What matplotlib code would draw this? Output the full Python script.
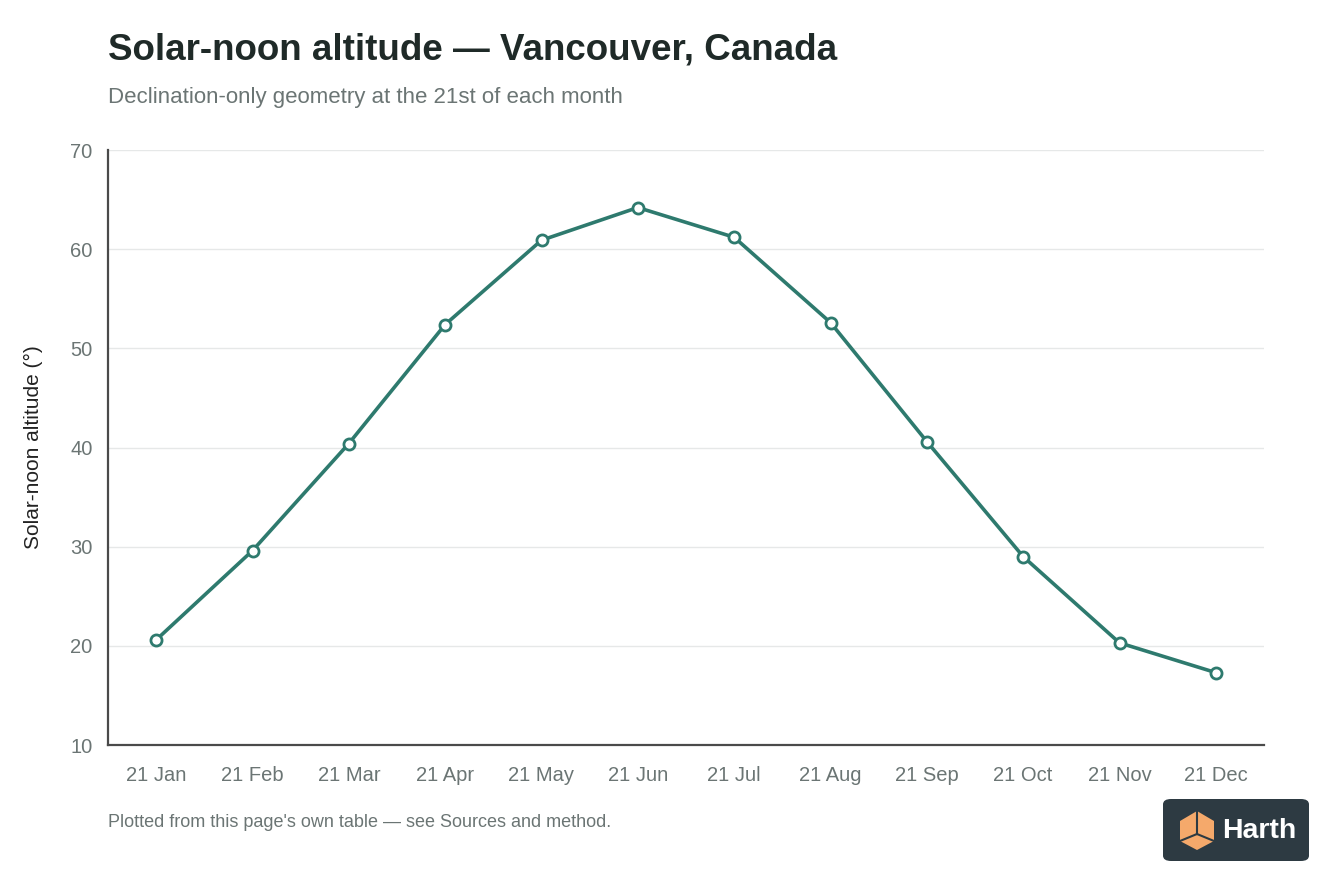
import matplotlib
matplotlib.use("Agg")
import matplotlib.pyplot as plt
from matplotlib.patches import FancyBboxPatch, Polygon

plt.rcParams['font.family'] = ['Liberation Sans', 'DejaVu Sans']

months = ['21 Jan', '21 Feb', '21 Mar', '21 Apr', '21 May', '21 Jun',
          '21 Jul', '21 Aug', '21 Sep', '21 Oct', '21 Nov', '21 Dec']
altitude = [20.6, 29.6, 40.4, 52.4, 60.9, 64.2, 61.2, 52.6, 40.6, 29.0, 20.3, 17.3]
y_ticks = [10, 20, 30, 40, 50, 60, 70]

line_color = '#2e7a6e'
text_grey = '#6b7574'

fig = plt.figure(figsize=(13.44, 8.96), dpi=100)
W, H = 1344, 896
ax = fig.add_axes([108 / W, 1 - 745 / H, (1264 - 108) / W, (745 - 150) / H])

x = list(range(len(months)))
ax.plot(x, altitude, color=line_color, lw=2.6, marker='o', ms=8,
        mfc='white', mec=line_color, mew=2, zorder=3, clip_on=False)

ax.set_xlim(-0.5, len(months) - 0.5)
ax.set_ylim(10, 70)
ax.set_yticks(y_ticks)
ax.set_xticks(x)
ax.set_xticklabels(months)
ax.grid(axis='y', color='#e6e8e8', lw=1)
ax.set_axisbelow(True)
for s in ['top', 'right']:
    ax.spines[s].set_visible(False)
for s in ['left', 'bottom']:
    ax.spines[s].set_color('#4a4a4a')
    ax.spines[s].set_linewidth(1.6)
ax.tick_params(length=0, labelsize=14.5, colors=text_grey)
ax.tick_params(axis='x', pad=15)
ax.tick_params(axis='y', pad=11)
ax.set_ylabel('Solar-noon altitude (°)', fontsize=15, color='#222222', labelpad=20)

fig.text(108 / W, 1 - 50 / H, 'Solar-noon altitude — Vancouver, Canada',
         fontsize=26.5, fontweight='bold', color='#1f2a28', va='center')
fig.text(108 / W, 1 - 97 / H, 'Declination-only geometry at the 21st of each month',
         fontsize=16, color=text_grey, va='center')
fig.text(108 / W, 1 - 822 / H, "Plotted from this page's own table — see Sources and method.",
         fontsize=13, color=text_grey, va='center')

# logo badge
badge = FancyBboxPatch((1163 / W, 1 - 861 / H), (1309 - 1163) / W, (861 - 799) / H,
                       boxstyle='round,pad=0,rounding_size=0.006',
                       transform=fig.transFigure, facecolor='#2d3a42', edgecolor='none')
fig.patches.append(badge)
cx, cy = 1197, 830
hexpts = [(cx, cy - 19), (cx + 17, cy - 9), (cx + 17, cy + 11), (cx, cy + 20),
          (cx - 17, cy + 11), (cx - 17, cy - 9)]
fig.patches.append(Polygon([(px / W, 1 - py / H) for px, py in hexpts],
                           closed=True, transform=fig.transFigure,
                           facecolor='#f5a96b', edgecolor='none'))
for a, b in [((cx, cy - 19), (cx, cy + 4)), ((cx, cy + 4), (cx - 17, cy + 11)),
             ((cx, cy + 4), (cx + 17, cy + 11))]:
    fig.lines.append(plt.Line2D([a[0] / W, b[0] / W], [1 - a[1] / H, 1 - b[1] / H],
                                transform=fig.transFigure, color='#2d3a42', lw=1.5))
fig.text(1222 / W, 1 - 831 / H, 'Harth', fontsize=20.5, fontweight='bold',
         color='white', va='center')

fig.savefig('out.png', dpi=100, facecolor='white')
